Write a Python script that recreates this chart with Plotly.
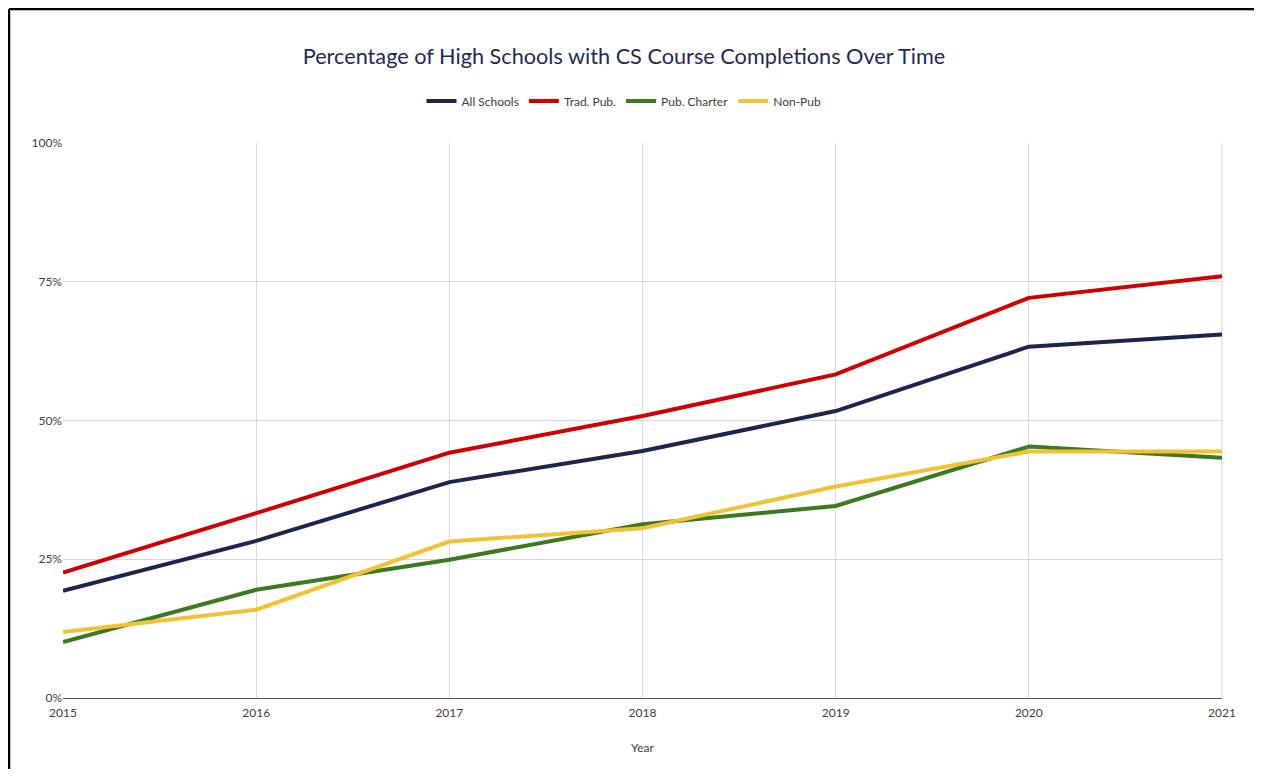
import plotly.graph_objects as go

years = [2015, 2016, 2017, 2018, 2019, 2020, 2021]
all_schools = [19.3, 28.3, 38.9, 44.5, 51.7, 63.3, 65.5]
trad_pub = [22.6, 33.3, 44.2, 50.8, 58.3, 72.1, 76.0]
pub_charter = [10.1, 19.5, 24.9, 31.3, 34.6, 45.3, 43.3]
non_pub = [11.9, 15.9, 28.2, 30.6, 38.1, 44.4, 44.4]

series = [
    ("All Schools", all_schools, "#1B2550"),
    ("Trad. Pub.", trad_pub, "#D20000"),
    ("Pub. Charter", pub_charter, "#3B7A1F"),
    ("Non-Pub", non_pub, "#F2C234"),
]

fig = go.Figure()
for name, vals, color in series:
    fig.add_trace(go.Scatter(
        x=years, y=vals, name=name, mode="lines",
        line=dict(color=color, width=4),
    ))

# page body adds an 8px offset; keep the figure inside the window (no scrollbars)
OFF = 8
W, H = 1262 - 2 * OFF, 777 - 2 * OFF
ml, mt = 63 - OFF, 143 - OFF
mr = (OFF + W) - 1222
mb = (OFF + H) - 698
pw, ph = W - ml - mr, H - mt - mb

fig.update_layout(
    width=W, height=H,
    margin=dict(l=ml, r=mr, t=mt, b=mb),
    paper_bgcolor="white", plot_bgcolor="white",
    font=dict(family="Lato", color="#404040", size=12),
    title=dict(
        text="Percentage of High Schools with CS Course Completions Over Time",
        x=(624 - OFF) / W, xanchor="center", y=1 - (56 - OFF) / H, yanchor="middle",
        font=dict(size=21.7, color="#1F2A5C", family="Lato"),
    ),
    legend=dict(
        orientation="h", x=(624 - OFF - ml) / pw, xanchor="center", y=1 + (143 - 101) / ph,
        yanchor="middle", font=dict(size=12, color="#404040"),
        itemwidth=30, traceorder="normal",
    ),
    xaxis=dict(
        range=[2015, 2021], tickvals=years, ticktext=[str(y) for y in years],
        showgrid=True, gridcolor="#D9D9D9", gridwidth=1,
        showline=True, linecolor="#595959", linewidth=1,
        zeroline=False, ticks="", ticklabelstandoff=4,
        title=dict(text="Year", font=dict(size=12, color="#404040"), standoff=24),
        tickfont=dict(size=12, color="#404040"),
    ),
    yaxis=dict(
        range=[0, 100], tickvals=[0, 25, 50, 75, 100],
        ticktext=["0%", "25%", "50%", "75%", "100%"],
        showgrid=True, gridcolor="#D9D9D9", gridwidth=1,
        zeroline=False, showline=False, ticks="",
        tickfont=dict(size=12, color="#404040"),
    ),
)

# outer frame: only the left and top edges are visible in the reference
fx0 = (1 - ml) / pw
fy1 = 1 + (mt - 1) / ph
fig.add_shape(
    type="line", xref="paper", yref="paper",
    x0=fx0, x1=fx0, y0=-mb / ph, y1=fy1,
    line=dict(color="black", width=2.5), layer="above",
)
fig.add_shape(
    type="line", xref="paper", yref="paper",
    x0=fx0, x1=1 + mr / pw, y0=fy1, y1=fy1,
    line=dict(color="black", width=2.5), layer="above",
)
fig.add_shape(
    type="line", xref="paper", yref="paper",
    x0=1, x1=1, y0=0, y1=1,
    line=dict(color="#D9D9D9", width=1), layer="below",
)

fig.write_html("out.html")
